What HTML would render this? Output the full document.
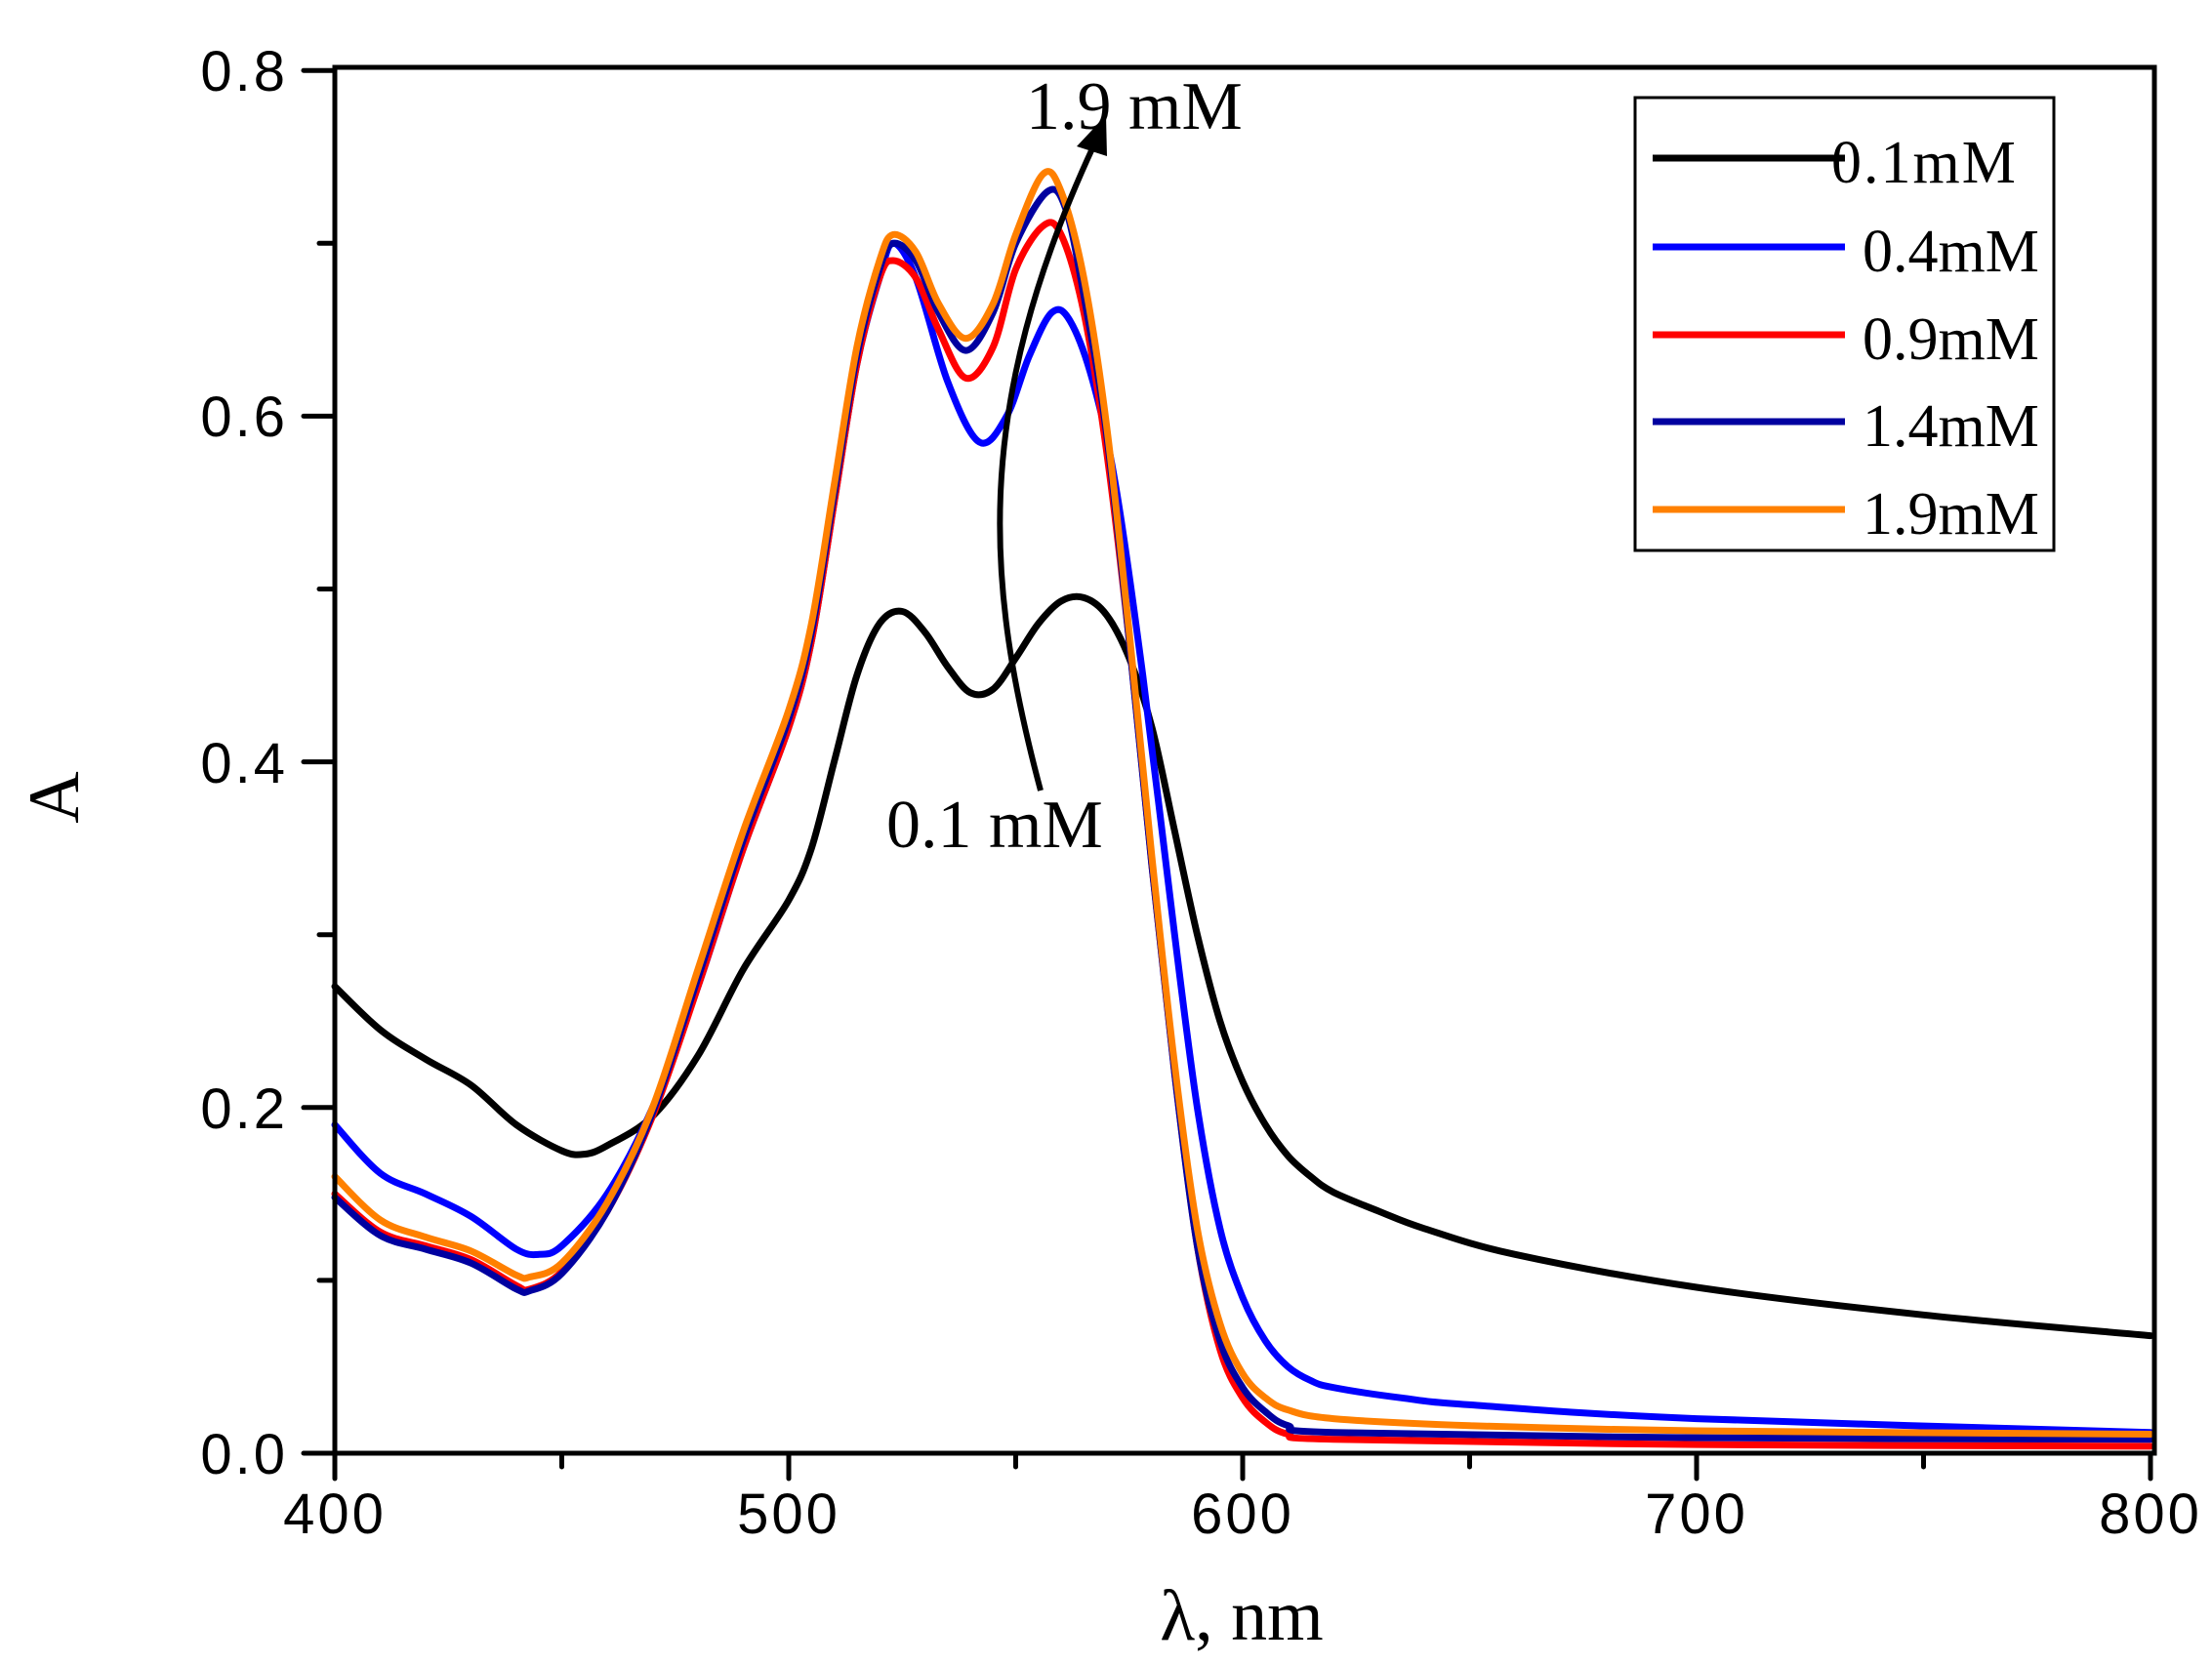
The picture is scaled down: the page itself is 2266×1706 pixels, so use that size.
<!DOCTYPE html>
<html><head><meta charset="utf-8"><style>
html,body{margin:0;padding:0;background:#fff}
svg{display:block}
.t{font-family:"Liberation Sans",sans-serif;font-size:58px;fill:#000;letter-spacing:3px}
.s{font-family:"Liberation Serif",serif;fill:#000}
</style></head><body>
<svg id="c" width="2266" height="1706" viewBox="0 0 2266 1706" xmlns="http://www.w3.org/2000/svg">
<g id="curves" fill="none" stroke-width="7" stroke-linejoin="round" stroke-linecap="round"></g>
<rect x="343" y="69" width="1864" height="1420" fill="none" stroke="#000" stroke-width="5"/>
<g id="ticks" stroke="#000" stroke-width="5" stroke-linecap="round"></g>
<g class="t" text-anchor="end">
<text x="295" y="1510">0.0</text><text x="295" y="1156">0.2</text><text x="295" y="802">0.4</text><text x="295" y="447">0.6</text><text x="295" y="93">0.8</text>
</g>
<g class="t" text-anchor="middle">
<text x="343" y="1571">400</text><text x="808" y="1571">500</text><text x="1273" y="1571">600</text><text x="1738" y="1571">700</text><text x="2203" y="1571">800</text>
</g>
<text class="s" font-size="74" text-anchor="middle" x="1272" y="1680">λ, nm</text>
<text class="s" font-size="74" text-anchor="middle" transform="translate(80,817) rotate(-90)">A</text>
<path d="M1066,810 C1010,600 995,420 1120,150" fill="none" stroke="#000" stroke-width="6"/>
<polygon points="1133,118 1103,150 1134,160" fill="#000"/>
<text class="s" font-size="70" x="1051" y="132">1.9 mM</text>
<text class="s" font-size="70" x="908" y="868">0.1 mM</text>
<rect x="1675" y="100" width="429" height="464" fill="#fff" stroke="#000" stroke-width="3"/>
<g stroke-width="7">
<line x1="1693" y1="162" x2="1890" y2="162" stroke="#000"/>
<line x1="1693" y1="253" x2="1890" y2="253" stroke="#0000ff"/>
<line x1="1693" y1="343" x2="1890" y2="343" stroke="#ff0000"/>
<line x1="1693" y1="432" x2="1890" y2="432" stroke="#0000a0"/>
<line x1="1693" y1="522" x2="1890" y2="522" stroke="#ff8000"/>
</g>
<g class="s" font-size="62">
<text x="1876" y="187" letter-spacing="2">0.1mM</text><text x="1908" y="278">0.4mM</text>
<text x="1908" y="368">0.9mM</text><text x="1908" y="457">1.4mM</text><text x="1908" y="547">1.9mM</text>
</g>
</svg>
<script>
var X=function(n){return 343+(n-400)*4.65},Y=function(a){return 1489-a*1771};
function path(d){var p=d.map(function(e){return [X(e[0]),Y(e[1])]});var s="M"+p[0][0].toFixed(1)+","+p[0][1].toFixed(1);
for(var i=0;i<p.length-1;i++){var p0=p[i-1]||p[i],p1=p[i],p2=p[i+1],p3=p[i+2]||p2;
var c1=[p1[0]+(p2[0]-p0[0])/6,p1[1]+(p2[1]-p0[1])/6],c2=[p2[0]-(p3[0]-p1[0])/6,p2[1]-(p3[1]-p1[1])/6];
s+="C"+c1[0].toFixed(1)+","+c1[1].toFixed(1)+" "+c2[0].toFixed(1)+","+c2[1].toFixed(1)+" "+p2[0].toFixed(1)+","+p2[1].toFixed(1);}return s;}
var S={
"#000":[[400,.27],[410,.245],[420,.228],[430,.213],[440,.19],[450,.175],[455,.173],[460,.178],[470,.195],[480,.23],[490,.28],[500,.32],[505,.35],[510,.40],[515,.45],[520,.48],[525,.487],[530,.475],[535,.455],[540,.44],[545,.442],[550,.46],[555,.48],[560,.493],[565,.495],[570,.485],[575,.46],[580,.42],[585,.36],[590,.30],[595,.25],[600,.215],[605,.19],[610,.172],[615,.16],[620,.151],[630,.14],[640,.13],[660,.115],[700,.096],[750,.08],[800,.068]],
"#0000ff":[[400,.19],[410,.162],[420,.15],[430,.137],[440,.118],[445,.115],[450,.12],[460,.15],[470,.20],[480,.27],[490,.35],[500,.42],[505,.47],[510,.55],[515,.63],[520,.68],[523,.70],[528,.68],[535,.62],[542,.585],[548,.6],[553,.635],[558,.66],[562,.655],[567,.62],[572,.56],[578,.45],[585,.3],[590,.2],[595,.13],[600,.09],[605,.065],[610,.05],[615,.042],[620,.038],[635,.032],[650,.028],[700,.02],[800,.012]],
"#ff0000":[[400,.15],[410,.128],[420,.12],[430,.112],[440,.097],[443,.095],[450,.105],[460,.14],[470,.195],[480,.27],[490,.35],[500,.42],[505,.47],[510,.55],[515,.63],[520,.68],[523,.69],[528,.68],[533,.65],[539,.622],[545,.64],[550,.685],[556,.71],[560,.705],[565,.66],[570,.58],[575,.47],[580,.34],[585,.22],[590,.12],[595,.06],[600,.032],[605,.018],[610,.011],[620,.008],[700,.005],[800,.004]],
"#0000a0":[[400,.148],[410,.126],[420,.118],[430,.11],[440,.095],[443,.094],[450,.104],[460,.14],[470,.197],[480,.275],[490,.355],[500,.425],[505,.475],[510,.555],[515,.635],[520,.685],[523,.70],[528,.69],[533,.66],[539,.638],[545,.66],[550,.70],[557,.73],[561,.72],[565,.67],[570,.59],[575,.47],[580,.34],[585,.22],[590,.12],[595,.065],[600,.038],[605,.024],[610,.016],[620,.012],[700,.009],[800,.008]],
"#ff8000":[[400,.16],[410,.135],[420,.125],[430,.117],[440,.103],[443,.102],[450,.11],[460,.145],[470,.2],[480,.28],[490,.36],[500,.43],[505,.48],[510,.56],[515,.64],[520,.69],[523,.705],[528,.695],[533,.665],[539,.645],[545,.665],[550,.705],[556,.74],[560,.73],[565,.68],[570,.595],[575,.475],[580,.345],[585,.225],[590,.13],[595,.075],[600,.046],[605,.032],[610,.025],[620,.02],[650,.016],[700,.013],[800,.011]]};
var g=document.getElementById("curves"),ns="http://www.w3.org/2000/svg";
for(var k in S){var p=document.createElementNS(ns,"path");p.setAttribute("d",path(S[k]));p.setAttribute("stroke",k);g.appendChild(p);}
var t=document.getElementById("ticks");
function ln(a,b,c,d){var l=document.createElementNS(ns,"line");l.setAttribute("x1",a);l.setAttribute("y1",b);l.setAttribute("x2",c);l.setAttribute("y2",d);t.appendChild(l);}
for(var i=0;i<=8;i++){var y=Y(i*0.1);ln(343,y,i%2?327:311,y);}
for(var i=0;i<=8;i++){var x=X(400+i*50);ln(x,1489,x,i%2?1503:1515);}
</script>
</body></html>
